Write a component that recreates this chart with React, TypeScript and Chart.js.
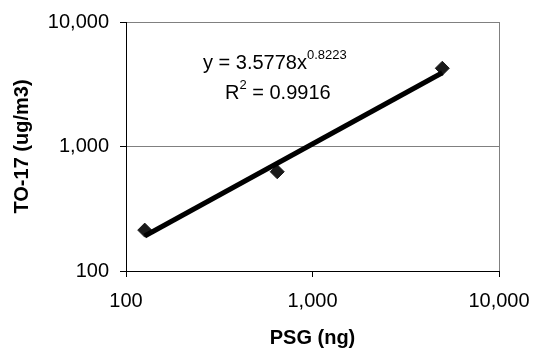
import React, { useEffect, useRef } from "react";
import { Chart, registerables } from "chart.js";

Chart.register(...registerables);

const psgNg = [126, 647, 4966];
const to17 = [213, 627, 4250];
const tickValues = [100, 1000, 10000];
const trendA = 3.5778;
const trendB = 0.8223;
const eqMain = "y = 3.5778x";
const eqExp = "0.8223";
const r2Text = " = 0.9916";
const xTitle = "PSG (ng)";
const yTitle = "TO-17 (ug/m3)";

const FONT = "Liberation Sans, Arial, sans-serif";

const textPlugin = {
  id: "texts",
  afterDraw(chart: any) {
    const ctx = chart.ctx;
    const area = chart.chartArea;
    ctx.save();
    ctx.fillStyle = "#000";
    ctx.strokeStyle = "#808080";
    ctx.lineWidth = 1;
    ctx.beginPath();
    ctx.moveTo(area.right + 0.5, area.top);
    ctx.lineTo(area.right + 0.5, area.bottom);
    ctx.stroke();
    ctx.font = `bold 20px ${FONT}`;
    ctx.textAlign = "center";
    ctx.textBaseline = "middle";
    ctx.fillText(xTitle, (area.left + area.right) / 2, 338);
    ctx.save();
    ctx.translate(22, (area.top + area.bottom) / 2);
    ctx.rotate(-Math.PI / 2);
    ctx.fillText(yTitle, 0, 0);
    ctx.restore();
    ctx.textAlign = "left";
    ctx.textBaseline = "alphabetic";
    ctx.font = `20px ${FONT}`;
    const x0 = 203;
    ctx.fillText(eqMain, x0, 69);
    const w = ctx.measureText(eqMain).width;
    ctx.font = `13px ${FONT}`;
    ctx.fillText(eqExp, x0 + w, 59);
    ctx.font = `20px ${FONT}`;
    const rx = 225;
    ctx.fillText("R", rx, 99);
    const rw = ctx.measureText("R").width;
    ctx.font = `13px ${FONT}`;
    ctx.fillText("2", rx + rw, 89);
    const w2 = ctx.measureText("2").width;
    ctx.font = `20px ${FONT}`;
    ctx.fillText(r2Text, rx + rw + w2, 99);
    ctx.restore();
  },
};

export default function App() {
  const ref = useRef<HTMLCanvasElement | null>(null);
  useEffect(() => {
    if (!ref.current) return;
    const xMin = Math.min(...psgNg);
    const xMax = Math.max(...psgNg);
    const trend = [xMin, xMax].map((x) => ({ x, y: trendA * Math.pow(x, trendB) }));
    const chart = new Chart(ref.current, {
      type: "scatter",
      data: {
        datasets: [
          {
            data: psgNg.map((x, i) => ({ x, y: to17[i] })),
            pointStyle: "rectRot",
            pointRadius: 7,
            backgroundColor: "#1a1a1a",
            borderColor: "#1a1a1a",
            showLine: false,
            order: 2,
          },
          {
            data: trend,
            showLine: true,
            borderColor: "#000",
            borderWidth: 5,
            pointRadius: 0,
            order: 1,
          },
        ],
      },
      options: {
        animation: false,
        responsive: false,
        maintainAspectRatio: false,
        layout: { padding: { top: 22, right: 34, left: 0, bottom: 0 } },
        plugins: { legend: { display: false }, tooltip: { enabled: false } },
        scales: {
          x: {
            type: "logarithmic",
            min: 100,
            max: 10000,
            afterBuildTicks: (s: any) => {
              s.ticks = tickValues.map((v) => ({ value: v }));
            },
            afterFit: (s: any) => {
              s.height = 79;
              s.paddingLeft = 0;
              s.paddingRight = 0;
            },
            ticks: {
              font: { family: FONT, size: 20 },
              color: "#000",
              padding: 12,
              maxRotation: 0,
              callback: (v: any) => Number(v).toLocaleString("en-US"),
            },
            grid: {
              drawOnChartArea: false,
              tickLength: 6,
              tickColor: "#000",
            },
            border: { color: "#000", width: 1 },
          },
          y: {
            type: "logarithmic",
            min: 100,
            max: 10000,
            afterBuildTicks: (s: any) => {
              s.ticks = tickValues.map((v) => ({ value: v }));
            },
            afterFit: (s: any) => {
              s.width = 126;
              s.paddingTop = 0;
              s.paddingBottom = 0;
            },
            ticks: {
              font: { family: FONT, size: 20 },
              color: "#000",
              padding: 11,
              callback: (v: any) => Number(v).toLocaleString("en-US"),
            },
            grid: {
              color: "#808080",
              tickLength: 6,
              tickColor: "#000",
            },
            border: { color: "#000", width: 1 },
          },
        },
      },
      plugins: [textPlugin],
    } as any);
    return () => chart.destroy();
  }, []);
  return (
    <div style={{ position: "absolute", left: 0, top: 0, width: 533, height: 350, background: "#fff" }}>
      <canvas ref={ref} width={533} height={350} />
    </div>
  );
}
